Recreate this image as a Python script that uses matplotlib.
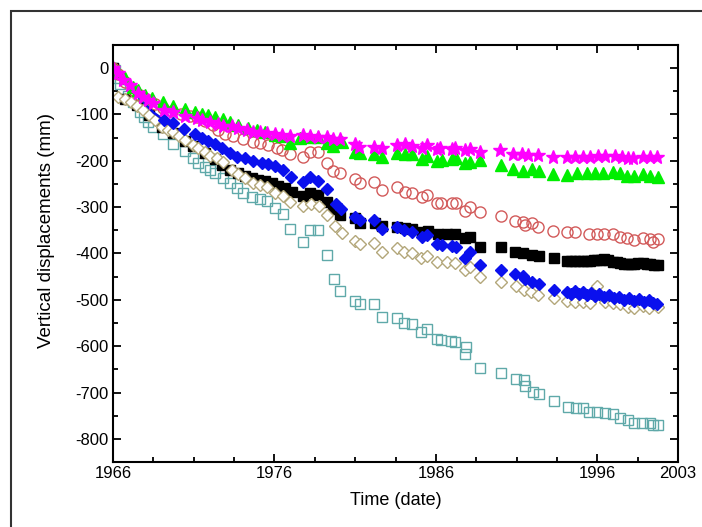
import numpy as np
import matplotlib
matplotlib.use("Agg")
import matplotlib.pyplot as plt
from matplotlib.patches import Rectangle
from matplotlib.ticker import MultipleLocator

plt.rcParams['font.family'] = ['Liberation Sans', 'DejaVu Sans']
plt.rcParams['axes.unicode_minus'] = False

# time axis: years after the start of the record (axis labels are the survey dates)
tick_pos = [0, 10, 20, 30, 35]
tick_labels = ['1966', '1976', '1986', '1996', '2003']

# magenta stars
t_star = [0, 0.31, 0.62, 1.05, 1.55, 1.86, 2.17, 2.48, 3.16, 3.72, 4.46, 5.20, 5.51, 6.01, 6.51,
          6.82, 7.37, 7.74, 8.30, 8.67, 9.11, 9.54, 10.04, 10.47, 10.97, 11.77, 12.21, 12.70,
          13.26, 13.63, 14.06, 14.99, 15.24, 16.17, 16.67, 17.60, 18.09, 18.53, 19.14, 19.45,
          20.07, 20.26, 21.00, 21.19, 21.81, 22.12, 22.74, 23.98, 24.78, 25.34, 25.71, 26.33,
          27.26, 28.13, 28.62, 29.12, 29.55, 30.05, 30.48, 31.10, 31.54, 31.91, 32.22, 32.84,
          33.27, 33.71]
v_star = [0, -11, -26, -37, -54, -63, -69, -75, -91, -95, -103, -108, -112, -116, -121,
          -125, -125, -129, -134, -138, -138, -140, -142, -144, -147, -144, -147, -149,
          -149, -153, -153, -164, -170, -170, -172, -166, -164, -168, -172, -166,
          -175, -172, -175, -172, -177, -175, -181, -177, -185, -185, -188, -188,
          -192, -192, -192, -192, -192, -190, -190, -190, -192, -194, -194, -192,
          -192, -192]

# green triangles
t_tri = [0, 0.31, 0.74, 1.24, 1.55, 1.98, 2.42, 3.10, 3.72, 4.46, 5.08, 5.51, 5.89, 6.32, 6.82,
         7.25, 7.74, 8.36, 8.92, 9.42, 10.04, 10.47, 10.97, 11.59, 12.21, 12.70, 13.26, 13.63,
         14.19, 14.99, 15.30, 16.17, 16.67, 17.60, 18.09, 18.53, 19.14, 19.45, 20.07, 20.38,
         21.00, 21.25, 21.81, 22.12, 22.74, 24.04, 24.78, 25.40, 25.96, 26.39, 27.26, 28.13,
         28.75, 29.37, 29.86, 30.36, 30.98, 31.41, 31.85, 32.28, 32.84, 33.27, 33.77]
v_tri = [0, -9, -22, -41, -47, -58, -65, -73, -82, -88, -95, -99, -101, -106, -110,
         -116, -123, -129, -134, -138, -144, -147, -162, -151, -149, -149, -162, -168,
         -160, -181, -183, -185, -192, -183, -185, -185, -196, -190, -201, -198,
         -196, -194, -205, -203, -198, -209, -218, -222, -218, -222, -229, -231,
         -226, -226, -226, -226, -224, -226, -233, -233, -229, -233, -235]

# red open circles
t_circ = [0, 0.31, 0.74, 1.24, 1.67, 2.17, 2.60, 3.10, 3.66, 4.21, 4.77, 5.20, 5.70, 6.20, 6.51,
          6.94, 7.43, 8.05, 8.67, 9.11, 9.60, 10.16, 10.47, 10.97, 11.77, 12.21, 12.70, 13.26,
          13.63, 14.06, 14.99, 15.30, 16.17, 16.67, 17.60, 18.09, 18.53, 19.14, 19.45, 20.07,
          20.32, 21.00, 21.25, 21.81, 22.12, 22.74, 24.04, 24.91, 25.40, 25.53, 25.96, 26.33,
          27.26, 28.13, 28.62, 29.49, 29.99, 30.42, 30.98, 31.41, 31.85, 32.28, 32.84, 33.27,
          33.46, 33.77]
v_circ = [0, -13, -30, -47, -58, -69, -78, -86, -93, -99, -103, -106, -114, -123, -134,
          -142, -147, -153, -160, -162, -166, -172, -177, -185, -192, -181, -181, -205,
          -222, -226, -239, -248, -246, -263, -257, -267, -270, -278, -274, -291,
          -291, -291, -291, -308, -300, -310, -319, -330, -332, -338, -334, -343,
          -351, -354, -354, -358, -358, -358, -358, -364, -367, -371, -367, -369,
          -375, -369]

# black filled squares
t_sq = [0, 0.74, 1.49, 2.23, 3.04, 3.72, 4.46, 4.96, 5.70, 6.32, 6.75, 7.25, 7.74, 8.18, 8.61,
        8.98, 9.42, 9.85, 10.22, 10.66, 11.09, 11.77, 12.21, 12.70, 13.26, 13.63, 14.06, 14.99,
        15.30, 16.23, 16.67, 17.60, 18.09, 18.53, 19.14, 19.52, 20.14, 20.69, 21.19, 21.81,
        22.12, 22.74, 24.04, 24.91, 25.40, 25.96, 26.39, 27.32, 28.13, 28.38, 28.62, 28.87,
        29.12, 29.37, 29.55, 29.80, 29.99, 30.21, 30.42, 30.67, 30.98, 31.22, 31.41, 31.66,
        31.91, 32.10, 32.28, 32.53, 32.84, 33.05, 33.27, 33.52, 33.77]
v_sq = [0, -66, -80, -101, -127, -140, -157, -168, -184, -197, -210, -220, -226, -233, -237,
        -241, -244, -248, -254, -259, -267, -276, -270, -274, -289, -304, -317, -323,
        -334, -334, -341, -343, -345, -347, -354, -351, -358, -358, -358, -367,
        -364, -386, -386, -397, -399, -403, -405, -410, -416, -416, -416, -417,
        -416, -416, -416, -415, -414, -413, -412, -415, -418, -419, -420, -422,
        -423, -423, -423, -421, -420, -422, -423, -424, -425]

# blue filled diamonds
t_dia = [0, 0.31, 0.68, 1.05, 1.43, 1.80, 2.17, 2.54, 2.91, 3.16, 3.72, 4.40, 5.08, 5.51, 5.89,
         6.32, 6.75, 7.25, 7.68, 8.18, 8.67, 9.23, 9.60, 10.04, 10.53, 11.03, 11.77, 12.21,
         12.70, 13.26, 13.82, 14.13, 14.99, 15.30, 16.17, 16.67, 17.60, 18.03, 18.53, 19.14,
         19.45, 20.07, 20.38, 21.00, 21.25, 21.81, 22.12, 22.74, 24.04, 24.91, 25.40, 25.53,
         25.96, 26.39, 27.32, 28.13, 28.38, 28.62, 28.87, 29.12, 29.37, 29.61, 29.86, 30.11,
         30.42, 30.73, 31.04, 31.35, 31.66, 31.97, 32.28, 32.59, 32.90, 33.21, 33.46, 33.71]
v_dia = [0, -13, -26, -41, -56, -71, -84, -97, -106, -112, -119, -132, -142, -151, -157,
         -164, -172, -183, -192, -194, -201, -205, -207, -211, -220, -235, -246, -235,
         -244, -261, -293, -304, -321, -328, -328, -347, -343, -349, -354, -364,
         -360, -379, -382, -384, -386, -410, -397, -425, -436, -444, -448, -455,
         -461, -466, -479, -483, -487, -481, -487, -483, -489, -485, -492, -487,
         -494, -489, -496, -494, -500, -496, -502, -498, -504, -500, -507, -509]

# khaki open diamonds
t_odia = [0, 0.31, 0.74, 1.12, 1.49, 1.86, 2.23, 2.60, 3.04, 3.41, 3.72, 4.09, 4.46, 4.96, 5.27,
          5.70, 6.01, 6.44, 6.82, 7.37, 7.74, 8.18, 8.67, 9.11, 9.54, 10.04, 10.53, 10.97,
          11.77, 12.27, 12.76, 13.26, 13.75, 14.19, 14.99, 15.30, 16.17, 16.67, 17.60, 18.03,
          18.53, 19.08, 19.45, 20.07, 20.69, 21.19, 21.81, 22.12, 22.74, 24.04, 24.97, 25.46,
          25.90, 26.33, 27.32, 28.13, 28.62, 29.12, 29.55, 29.99, 30.48, 30.98, 31.41, 31.91,
          32.28, 32.84, 33.21, 33.77]
v_odia = [0, -63, -67, -73, -82, -91, -101, -112, -127, -134, -138, -147, -155, -166, -172,
          -181, -190, -194, -203, -220, -229, -237, -248, -252, -257, -270, -276, -289,
          -298, -293, -298, -317, -341, -356, -373, -379, -377, -397, -388, -397,
          -399, -410, -405, -418, -418, -420, -436, -429, -451, -461, -470, -479,
          -483, -489, -496, -502, -505, -505, -507, -470, -505, -507, -509, -515,
          -517, -513, -517, -515]

# teal open squares
t_osq = [0, 0.12, 0.31, 0.43, 0.93, 1.24, 1.67, 1.92, 2.17, 2.48, 3.10, 3.72, 4.46, 4.96, 5.27,
         5.70, 6.01, 6.32, 6.82, 7.25, 7.68, 8.05, 8.61, 9.11, 9.54, 10.04, 10.53, 10.97,
         11.77, 12.21, 12.70, 13.26, 13.69, 14.06, 14.99, 15.30, 16.17, 16.67, 17.60, 18.03,
         18.53, 19.08, 19.45, 20.07, 20.32, 20.94, 21.19, 21.81, 21.87, 22.74, 24.04, 24.97,
         25.46, 25.53, 26.02, 26.39, 27.32, 28.19, 28.69, 29.12, 29.49, 29.99, 30.48, 30.98,
         31.41, 31.91, 32.28, 32.78, 33.27, 33.46, 33.77]
v_osq = [0, -4, -22, -35, -60, -73, -95, -105, -116, -127, -142, -164, -179, -194, -205,
         -213, -220, -226, -237, -248, -259, -270, -278, -282, -287, -302, -315, -347,
         -375, -349, -349, -403, -455, -481, -502, -509, -509, -537, -539, -550,
         -552, -569, -563, -584, -586, -589, -591, -617, -602, -647, -658, -671,
         -673, -686, -699, -703, -718, -731, -733, -733, -742, -742, -744, -746,
         -755, -759, -765, -765, -765, -770, -770]

fig = plt.figure(figsize=(7.02, 5.27), dpi=100)
ax = fig.add_axes([0.161, 0.123, 0.805, 0.792])

blue = '#0a10ee'
n_early = 9  # first blue readings are so close they show as a line

ax.plot(t_osq, v_osq, ls='none', marker='s', ms=7.5, mfc='none', mec='#5fa9a9', mew=1.0)
ax.plot(t_sq, v_sq, ls='none', marker='s', ms=6.5, color='black')
ax.plot(t_odia, v_odia, ls='none', marker='D', ms=6.5, mfc='white', mec='#b3a77a', mew=1.0)
ax.plot(t_circ, v_circ, ls='none', marker='o', ms=8, mfc='none', mec='#d25a5a', mew=1.0)
ax.plot(t_dia[:n_early + 1], v_dia[:n_early + 1], ls='-', lw=1.8, color=blue)
ax.plot(t_dia[n_early:], v_dia[n_early:], ls='none', marker='D', ms=6.5, color=blue)
ax.plot(t_tri, v_tri, ls='none', marker='^', ms=8, color='#00ee00')
ax.plot(t_star, v_star, ls='none', marker='*', ms=10.5, color='#ff00ff')

ax.set_xlim(0, 35)
ax.set_ylim(-850, 50)
ax.set_xticks(tick_pos)
ax.set_xticklabels(tick_labels)
ax.xaxis.set_minor_locator(MultipleLocator(2.5))
ax.yaxis.set_major_locator(MultipleLocator(100))
ax.yaxis.set_minor_locator(MultipleLocator(50))

ax.tick_params(which='both', direction='in', top=True, right=True, width=1.3,
               labelsize=12, colors='black', pad=3)
ax.tick_params(which='major', length=6)
ax.tick_params(which='minor', length=3.5)
for sp in ax.spines.values():
    sp.set_linewidth(1.5)

ax.set_xlabel('Time (date)', fontsize=13, labelpad=8)
ax.set_ylabel('Vertical displacements (mm)', fontsize=13.5)
ax.yaxis.set_label_coords(-0.103, 0.555)

# outer frame around the figure (cut off at right and bottom)
fig.patches.append(Rectangle((11 / 702, -0.05), 1.2, 1.05 - 11 / 527, transform=fig.transFigure,
                             fill=False, edgecolor='#333333', linewidth=1.5, clip_on=False))

fig.savefig('out.png', dpi=100)
